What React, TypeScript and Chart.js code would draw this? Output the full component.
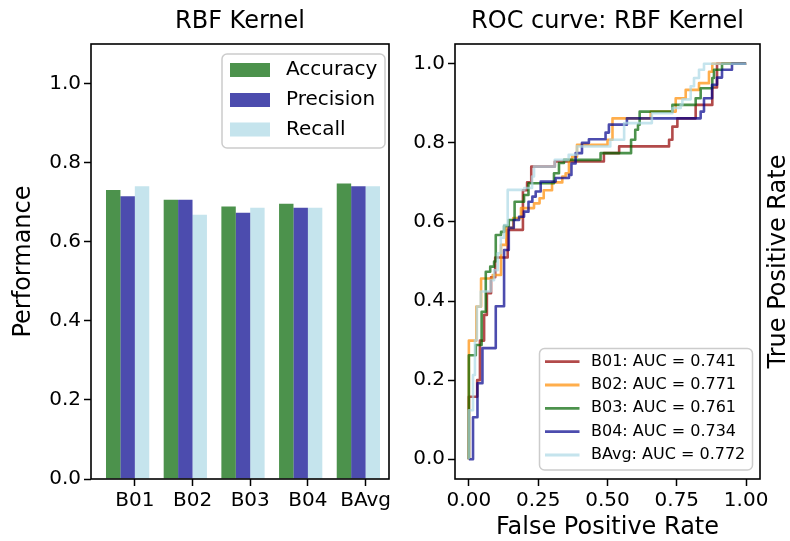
import React, { useEffect, useRef } from 'react';
import { Chart, registerables } from 'chart.js';

Chart.register(...registerables);

// ---------- data ----------
const categories = ['B01', 'B02', 'B03', 'B04', 'BAvg'];
const accuracy = [0.731, 0.706, 0.689, 0.696, 0.747];
const precision = [0.715, 0.706, 0.673, 0.686, 0.740];
const recall = [0.740, 0.668, 0.686, 0.686, 0.740];
const barYTicks = [0, 0.2, 0.4, 0.6, 0.8, 1.0];
const barSeriesNames = ['Accuracy', 'Precision', 'Recall'];

const rocXTicks = [0, 0.25, 0.5, 0.75, 1.0];
const rocYTicks = [0, 0.2, 0.4, 0.6, 0.8, 1.0];
const rocLabels = [
  'B01: AUC = 0.741',
  'B02: AUC = 0.771',
  'B03: AUC = 0.761',
  'B04: AUC = 0.734',
  'BAvg: AUC = 0.772',
];

// [FPR, TPR] corner points
const rocB01: number[][] = [
  [0, 0], [0, 0.158], [0.03, 0.158], [0.03, 0.2], [0.04, 0.2], [0.04, 0.3], [0.055, 0.3],
  [0.055, 0.365], [0.065, 0.365], [0.065, 0.42], [0.08, 0.42], [0.08, 0.46], [0.095, 0.46],
  [0.095, 0.51], [0.14, 0.51], [0.14, 0.58], [0.195, 0.58], [0.195, 0.68], [0.21, 0.68],
  [0.21, 0.7], [0.225, 0.7], [0.225, 0.74], [0.31, 0.74], [0.31, 0.753], [0.487, 0.753],
  [0.487, 0.774], [0.542, 0.774], [0.542, 0.791], [0.722, 0.791], [0.722, 0.808], [0.734, 0.808],
  [0.734, 0.841], [0.752, 0.841], [0.752, 0.862], [0.818, 0.862], [0.818, 0.896], [0.878, 0.896],
  [0.878, 0.94], [0.895, 0.94], [0.895, 1], [1, 1],
];
const rocB02: number[][] = [
  [0, 0], [0, 0.3], [0.027, 0.3], [0.027, 0.386], [0.044, 0.386], [0.044, 0.457], [0.086, 0.457],
  [0.086, 0.466], [0.116, 0.466], [0.116, 0.542], [0.135, 0.542], [0.135, 0.585], [0.16, 0.585],
  [0.16, 0.61], [0.188, 0.61], [0.188, 0.635], [0.235, 0.635], [0.235, 0.647], [0.255, 0.647],
  [0.255, 0.66], [0.27, 0.66], [0.27, 0.68], [0.3, 0.68], [0.3, 0.7], [0.337, 0.7], [0.337, 0.715],
  [0.349, 0.715], [0.349, 0.723], [0.361, 0.723], [0.361, 0.757], [0.372, 0.757], [0.372, 0.765],
  [0.39, 0.765], [0.39, 0.795], [0.5, 0.795], [0.5, 0.808], [0.518, 0.808], [0.518, 0.862],
  [0.656, 0.862], [0.656, 0.879], [0.746, 0.879], [0.746, 0.913], [0.782, 0.913], [0.782, 0.934],
  [0.83, 0.934], [0.83, 0.951], [0.866, 0.951], [0.866, 0.98], [0.878, 0.98], [0.878, 1], [1, 1],
];
const rocB03: number[][] = [
  [0, 0], [0, 0.263], [0.025, 0.263], [0.025, 0.289], [0.046, 0.289], [0.046, 0.373], [0.061, 0.373],
  [0.061, 0.474], [0.077, 0.474], [0.077, 0.487], [0.091, 0.487], [0.091, 0.5], [0.097, 0.5],
  [0.097, 0.567], [0.116, 0.567], [0.116, 0.575], [0.127, 0.575], [0.127, 0.59], [0.144, 0.59],
  [0.144, 0.605], [0.165, 0.605], [0.165, 0.651], [0.199, 0.651], [0.199, 0.668], [0.215, 0.668],
  [0.215, 0.698], [0.307, 0.698], [0.307, 0.723], [0.325, 0.723], [0.325, 0.749], [0.343, 0.749],
  [0.343, 0.757], [0.475, 0.757], [0.475, 0.774], [0.585, 0.774], [0.585, 0.808], [0.6, 0.808],
  [0.6, 0.833], [0.61, 0.833], [0.61, 0.846], [0.616, 0.846], [0.616, 0.879], [0.734, 0.879],
  [0.734, 0.896], [0.818, 0.896], [0.818, 0.913], [0.836, 0.913], [0.836, 0.938], [0.878, 0.938],
  [0.878, 0.964], [0.884, 0.964], [0.884, 0.985], [0.913, 0.985], [0.913, 1], [1, 1],
];
const rocB04: number[][] = [
  [0, 0], [0.015, 0], [0.015, 0.106], [0.031, 0.106], [0.031, 0.192], [0.049, 0.192], [0.049, 0.281],
  [0.097, 0.281], [0.097, 0.387], [0.127, 0.387], [0.127, 0.529], [0.144, 0.529], [0.144, 0.585],
  [0.162, 0.585], [0.162, 0.605], [0.181, 0.605], [0.181, 0.613], [0.199, 0.613], [0.199, 0.626],
  [0.215, 0.626], [0.215, 0.651], [0.229, 0.651], [0.229, 0.664], [0.241, 0.664], [0.241, 0.677],
  [0.259, 0.677], [0.259, 0.702], [0.313, 0.702], [0.313, 0.711], [0.361, 0.711], [0.361, 0.719],
  [0.37, 0.719], [0.37, 0.748], [0.385, 0.748], [0.385, 0.774], [0.408, 0.774], [0.408, 0.8],
  [0.433, 0.8], [0.433, 0.809], [0.493, 0.809], [0.493, 0.826], [0.505, 0.826], [0.505, 0.846],
  [0.57, 0.846], [0.57, 0.862], [0.836, 0.862], [0.836, 0.879], [0.848, 0.879], [0.848, 0.913],
  [0.877, 0.913], [0.877, 0.947], [0.895, 0.947], [0.895, 0.965], [0.913, 0.965], [0.913, 0.985],
  [0.949, 0.985], [0.949, 1], [1, 1],
];
const rocBAvg: number[][] = [
  [0, 0], [0, 0.124], [0.015, 0.124], [0.015, 0.213], [0.022, 0.213], [0.022, 0.301], [0.029, 0.301],
  [0.029, 0.386], [0.043, 0.386], [0.043, 0.424], [0.079, 0.424], [0.079, 0.453], [0.091, 0.453],
  [0.091, 0.478], [0.104, 0.478], [0.104, 0.521], [0.115, 0.521], [0.115, 0.56], [0.127, 0.56],
  [0.127, 0.592], [0.14, 0.592], [0.14, 0.681], [0.2, 0.681], [0.2, 0.686], [0.228, 0.686],
  [0.228, 0.715], [0.235, 0.715], [0.235, 0.74], [0.31, 0.74], [0.31, 0.757], [0.36, 0.757],
  [0.36, 0.77], [0.39, 0.77], [0.39, 0.791], [0.51, 0.791], [0.51, 0.808], [0.56, 0.808],
  [0.56, 0.85], [0.66, 0.85], [0.66, 0.875], [0.734, 0.875], [0.734, 0.888], [0.764, 0.888],
  [0.764, 0.896], [0.77, 0.896], [0.77, 0.91], [0.8, 0.91], [0.8, 0.943], [0.812, 0.943],
  [0.812, 0.964], [0.83, 0.964], [0.83, 0.985], [0.848, 0.985], [0.848, 1], [1, 1],
];
const rocSeries = [rocB01, rocB02, rocB03, rocB04, rocBAvg];

// ---------- styles ----------
const FONT = "'DejaVu Sans', sans-serif";
const barColors = ['rgba(0,100,0,0.7)', 'rgba(0,0,139,0.7)', 'rgba(173,216,230,0.7)'];
const rocColors = [
  'rgba(165,42,42,0.85)',
  'rgba(255,140,0,0.7)',
  'rgba(0,100,0,0.7)',
  'rgba(0,0,139,0.7)',
  'rgba(173,216,230,0.7)',
];

Chart.defaults.font.family = FONT;
Chart.defaults.color = '#000';

function roundRect(ctx: CanvasRenderingContext2D, x: number, y: number, w: number, h: number, r: number) {
  ctx.beginPath();
  ctx.moveTo(x + r, y);
  ctx.lineTo(x + w - r, y);
  ctx.arcTo(x + w, y, x + w, y + r, r);
  ctx.lineTo(x + w, y + h - r);
  ctx.arcTo(x + w, y + h, x + w - r, y + h, r);
  ctx.lineTo(x + r, y + h);
  ctx.arcTo(x, y + h, x, y + h - r, r);
  ctx.lineTo(x, y + r);
  ctx.arcTo(x, y, x + r, y, r);
  ctx.closePath();
}

type TextItem = { text: string; x: number; y: number; size: number; rotate?: boolean };

function makeDecor(texts: TextItem[], legend: (ctx: CanvasRenderingContext2D) => void) {
  return {
    id: 'decor',
    afterDraw(chart: any) {
      const ctx: CanvasRenderingContext2D = chart.ctx;
      const a = chart.chartArea;
      ctx.save();
      ctx.strokeStyle = '#000';
      ctx.lineWidth = 1.6;
      ctx.strokeRect(a.left, a.top, a.right - a.left, a.bottom - a.top);
      ctx.fillStyle = '#000';
      ctx.textAlign = 'center';
      ctx.textBaseline = 'middle';
      for (const t of texts) {
        ctx.font = `${t.size}px ${FONT}`;
        if (t.rotate) {
          ctx.save();
          ctx.translate(t.x, t.y);
          ctx.rotate(-Math.PI / 2);
          ctx.fillText(t.text, 0, 0);
          ctx.restore();
        } else {
          ctx.fillText(t.text, t.x, t.y);
        }
      }
      legend(ctx);
      ctx.restore();
    },
  };
}

const tickGrid = {
  display: true,
  drawOnChartArea: false,
  drawTicks: true,
  tickLength: 7,
  tickWidth: 1.5,
  tickColor: '#000',
  offset: false,
};

export default function App() {
  const leftRef = useRef<HTMLCanvasElement>(null);
  const rightRef = useRef<HTMLCanvasElement>(null);

  useEffect(() => {
    const leftDecor = makeDecor(
      [
        { text: 'RBF Kernel', x: 240, y: 22, size: 24 },
        { text: 'Performance', x: 24, y: 261.5, size: 24, rotate: true },
      ],
      (ctx) => {
        roundRect(ctx, 222, 54, 163, 94, 5);
        ctx.fillStyle = 'rgba(255,255,255,0.8)';
        ctx.fill();
        ctx.strokeStyle = '#cccccc';
        ctx.lineWidth = 1.5;
        ctx.stroke();
        const ys = [70, 100, 129.5];
        barSeriesNames.forEach((name, i) => {
          ctx.fillStyle = barColors[i];
          ctx.fillRect(230, ys[i] - 7, 40, 14);
          ctx.fillStyle = '#000';
          ctx.font = `20px ${FONT}`;
          ctx.textAlign = 'left';
          ctx.textBaseline = 'middle';
          ctx.fillText(name, 286, ys[i]);
        });
      }
    );

    const c1 = new Chart(leftRef.current!, {
      type: 'bar',
      data: {
        datasets: [accuracy, precision, recall].map((arr, k) => ({
          label: barSeriesNames[k],
          data: arr.map((v, i) => ({ x: i, y: v })),
          backgroundColor: barColors[k],
          borderWidth: 0,
          categoryPercentage: 0.75,
          barPercentage: 1,
        })),
      } as any,
      options: {
        responsive: false,
        animation: false,
        devicePixelRatio: 1,
        layout: { padding: { left: 0, top: 44, right: 11, bottom: 0 } },
        plugins: { legend: { display: false }, tooltip: { enabled: false }, title: { display: false } },
        scales: {
          x: {
            type: 'linear',
            min: -0.635,
            max: 4.531,
            offset: false,
            afterBuildTicks: (s: any) => {
              s.ticks = categories.map((_, i) => ({ value: i + 0.125 }));
            },
            afterFit: (s: any) => {
              s.height = 62;
            },
            grid: tickGrid,
            border: { display: false },
            ticks: {
              callback: (_v: any, i: number) => categories[i],
              font: { size: 20, family: FONT },
              color: '#000',
              padding: 3,
              maxRotation: 0,
              autoSkip: false,
            },
          },
          y: {
            type: 'linear',
            min: 0,
            max: 1.1,
            afterBuildTicks: (s: any) => {
              s.ticks = barYTicks.map((v) => ({ value: v }));
            },
            afterFit: (s: any) => {
              s.width = 91;
            },
            grid: tickGrid,
            border: { display: false },
            ticks: {
              callback: (v: any) => Number(v).toFixed(1),
              font: { size: 20, family: FONT },
              color: '#000',
              padding: 3,
            },
          },
        },
      } as any,
      plugins: [leftDecor],
    });

    const rightDecor = makeDecor(
      [
        { text: 'ROC curve: RBF Kernel', x: 207.5, y: 22, size: 24 },
        { text: 'False Positive Rate', x: 207.5, y: 528, size: 24 },
        { text: 'True Positive Rate', x: 379, y: 261.5, size: 24, rotate: true },
      ],
      (ctx) => {
        roundRect(ctx, 139.5, 348.5, 213, 121.5, 5);
        ctx.fillStyle = 'rgba(255,255,255,0.8)';
        ctx.fill();
        ctx.strokeStyle = '#cccccc';
        ctx.lineWidth = 1.5;
        ctx.stroke();
        const ys = [361.7, 385, 408.3, 431.7, 455];
        rocLabels.forEach((name, i) => {
          ctx.strokeStyle = rocColors[i];
          ctx.lineWidth = 2.8;
          ctx.beginPath();
          ctx.moveTo(145, ys[i]);
          ctx.lineTo(179.5, ys[i]);
          ctx.stroke();
          ctx.fillStyle = '#000';
          ctx.font = `16px ${FONT}`;
          ctx.textAlign = 'left';
          ctx.textBaseline = 'middle';
          ctx.fillText(name, 191, ys[i]);
        });
      }
    );

    const c2 = new Chart(rightRef.current!, {
      type: 'line',
      data: {
        datasets: rocSeries.map((s, k) => ({
          label: rocLabels[k],
          data: s.map(([x, y]) => ({ x, y })),
          borderColor: rocColors[k],
          backgroundColor: rocColors[k],
          borderWidth: 2.6,
          pointRadius: 0,
          tension: 0,
          fill: false,
          borderJoinStyle: 'round',
          order: rocSeries.length - k,
        })),
      } as any,
      options: {
        responsive: false,
        animation: false,
        devicePixelRatio: 1,
        layout: { padding: { left: 0, top: 44, right: 30, bottom: 0 } },
        plugins: { legend: { display: false }, tooltip: { enabled: false }, title: { display: false } },
        scales: {
          x: {
            type: 'linear',
            min: -0.05,
            max: 1.05,
            afterBuildTicks: (s: any) => {
              s.ticks = rocXTicks.map((v) => ({ value: v }));
            },
            afterFit: (s: any) => {
              s.height = 62;
            },
            grid: tickGrid,
            border: { display: false },
            ticks: {
              callback: (v: any) => Number(v).toFixed(2),
              font: { size: 20, family: FONT },
              color: '#000',
              padding: 3,
              maxRotation: 0,
              autoSkip: false,
            },
          },
          y: {
            type: 'linear',
            min: -0.05,
            max: 1.05,
            afterBuildTicks: (s: any) => {
              s.ticks = rocYTicks.map((v) => ({ value: v }));
            },
            afterFit: (s: any) => {
              s.width = 55;
            },
            grid: tickGrid,
            border: { display: false },
            ticks: {
              callback: (v: any) => Number(v).toFixed(1),
              font: { size: 20, family: FONT },
              color: '#000',
              padding: 3,
            },
          },
        },
      } as any,
      plugins: [rightDecor],
    });

    return () => {
      c1.destroy();
      c2.destroy();
    };
  }, []);

  return (
    <div style={{ position: 'absolute', left: 0, top: 0, width: 790, height: 541, background: '#fff' }}>
      <canvas
        ref={leftRef}
        width={400}
        height={541}
        style={{ position: 'absolute', left: 0, top: 0, width: 400, height: 541 }}
      />
      <canvas
        ref={rightRef}
        width={390}
        height={541}
        style={{ position: 'absolute', left: 400, top: 0, width: 390, height: 541 }}
      />
    </div>
  );
}
